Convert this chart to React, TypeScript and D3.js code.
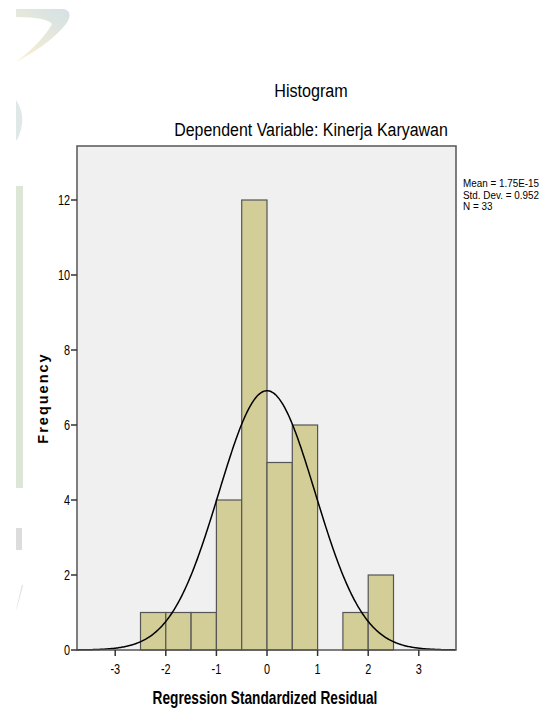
import React from "react";
import * as d3 from "d3";

const binStarts = [-2.5, -2.0, -1.5, -1.0, -0.5, 0.0, 0.5, 1.0, 1.5, 2.0];
const binCounts = [1, 1, 1, 4, 12, 5, 6, 0, 1, 2];
const binWidth = 0.5;
const xTicks = [-3, -2, -1, 0, 1, 2, 3];
const yTicks = [0, 2, 4, 6, 8, 10, 12];
const statLines = ["Mean = 1.75E-15", "Std. Dev. = 0.952", "N = 33"];
const meanVal = 0;
const sdVal = 0.952;
const nVal = 33;

const W = 549;
const H = 711;
const plot = { left: 77, right: 456, top: 146, bottom: 650 };
const FONT = "'Liberation Sans', Arial, sans-serif";

function NText(props: {
  x: number;
  y: number;
  sx?: number;
  anchor?: "start" | "middle" | "end";
  size: number;
  bold?: boolean;
  children: React.ReactNode;
}) {
  const { x, y, sx = 0.8, anchor = "start", size, bold, children } = props;
  return (
    <text
      transform={`translate(${x},${y}) scale(${sx},1)`}
      textAnchor={anchor}
      fontFamily={FONT}
      fontSize={size}
      fontWeight={bold ? "bold" : "normal"}
      fill="#000"
    >
      {children}
    </text>
  );
}

export default function App() {
  const x = d3.scaleLinear().domain([-3.755, 3.735]).range([plot.left, plot.right]);
  const y = d3.scaleLinear().domain([0, 13.44]).range([plot.bottom, plot.top]);

  const curvePts = d3.range(-3.755, 3.7351, 0.02).map((v) => {
    const pdf = Math.exp(-0.5 * ((v - meanVal) / sdVal) ** 2) / (sdVal * Math.sqrt(2 * Math.PI));
    return [v, nVal * binWidth * pdf] as [number, number];
  });
  const line = d3
    .line<[number, number]>()
    .x((d) => x(d[0]))
    .y((d) => y(d[1]));

  return (
    <svg
      width={W}
      height={H}
      style={{ position: "absolute", left: 0, top: 0, background: "#fff" }}
    >
      <defs>
        <linearGradient id="wm1" x1="0.8" y1="0" x2="0" y2="1">
          <stop offset="0" stopColor="#d6e2e3" />
          <stop offset="1" stopColor="#fbf0d2" />
        </linearGradient>
      </defs>
      {/* faint watermark shapes */}
      <path d="M16,9 L64,9 Q74,12 66,24 Q50,44 16,62 Q42,42 52,24 Q46,17 16,17 Z" fill="url(#wm1)" />
      <path d="M16,100 Q28,118 17,140 L16,140 Z" fill="#dfe7e8" />
      <rect x={16} y={186} width={7} height={302} fill="#dbe6d6" />
      <rect x={16} y={528} width={6} height={22} fill="#dcdcdc" />
      <path d="M16,610 L22,584 L23,586 L17,608 Z" fill="#e2e2e2" />

      {/* titles */}
      <NText x={311} y={97} anchor="middle" size={19} sx={0.85}>
        Histogram
      </NText>
      <NText x={311} y={136} anchor="middle" size={19} sx={0.84}>
        Dependent Variable: Kinerja Karyawan
      </NText>

      {/* plot background */}
      <rect
        x={plot.left}
        y={plot.top}
        width={plot.right - plot.left}
        height={plot.bottom - plot.top}
        fill="#f0f0f0"
      />

      {/* bars */}
      {binStarts.map((s, i) =>
        binCounts[i] > 0 ? (
          <rect
            key={i}
            x={x(s)}
            y={y(binCounts[i])}
            width={x(s + binWidth) - x(s)}
            height={y(0) - y(binCounts[i])}
            fill="#d3ce97"
            stroke="#555"
            strokeWidth={1.2}
          />
        ) : null
      )}

      {/* normal curve */}
      <path d={line(curvePts) || ""} fill="none" stroke="#000" strokeWidth={1.5} />

      {/* plot border */}
      <rect
        x={plot.left}
        y={plot.top}
        width={plot.right - plot.left}
        height={plot.bottom - plot.top}
        fill="none"
        stroke="#555"
        strokeWidth={1.5}
      />

      {/* y ticks */}
      {yTicks.map((t) => (
        <g key={t}>
          <line x1={plot.left - 6} x2={plot.left} y1={y(t)} y2={y(t)} stroke="#333" strokeWidth={1.5} />
          <NText x={plot.left - 7} y={y(t) + 5} anchor="end" size={14.5} sx={0.75}>
            {t}
          </NText>
        </g>
      ))}

      {/* x ticks */}
      {xTicks.map((t) => (
        <g key={t}>
          <line x1={x(t)} x2={x(t)} y1={plot.bottom} y2={plot.bottom + 6} stroke="#333" strokeWidth={1.5} />
          <NText x={x(t)} y={plot.bottom + 24} anchor="middle" size={14.5} sx={0.75}>
            {t}
          </NText>
        </g>
      ))}

      {/* axis titles */}
      <NText x={265} y={704} anchor="middle" size={18} bold sx={0.76}>
        Regression Standardized Residual
      </NText>
      <text
        transform={`translate(48, ${(plot.top + plot.bottom) / 2}) rotate(-90)`}
        textAnchor="middle"
        fontFamily={FONT}
        fontWeight="bold"
        fontSize={14.5}
        letterSpacing={2}
        fill="#000"
      >
        Frequency
      </text>

      {/* stats */}
      {statLines.map((s, i) => (
        <NText key={i} x={463} y={187 + i * 11.5} size={11.5} sx={0.86}>
          {s}
        </NText>
      ))}
    </svg>
  );
}
